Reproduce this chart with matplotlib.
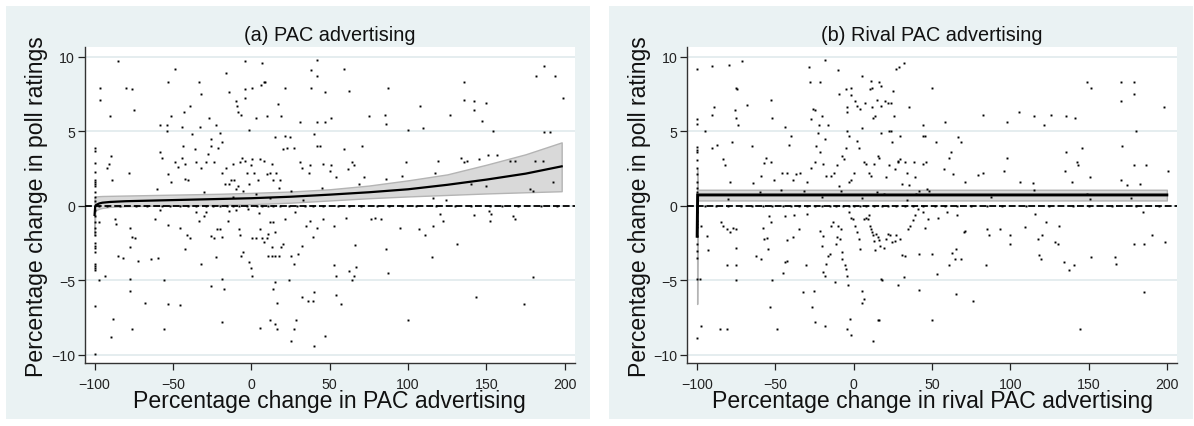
import matplotlib.pyplot as plt
import numpy as np
from matplotlib.patches import Rectangle

plt.rcParams["font.family"] = ["Liberation Sans", "DejaVu Sans"]

BG = "#EAF2F3"
GRID = "#E3ECEE"

# ---------------------------------------------------------------- panel (a)
# observations sitting on x = -100 (poll change values)
pac_col_y = [3.85, 3.7, 2.87, 2.29, 1.73, 1.57, 1.46, 1.34, 0.9, 0.6, 0.3,
             -0.3, -0.7, -1.1, -1.5, -1.79, -1.95, -2.52, -2.68, -2.86, -3.09,
             -3.91, -4.03, -4.18, -4.30, -6.71, -9.97]
# observations sitting on y = 0 (advertising change values)
pac_zero_x = [-97, -92, -83.8, -73.8, -66.8, -57.2, -51.9, -45.5, -40.2, -35,
              -29, -24.3, -20, -15.7, -11.5, -7.7, -2.9, 3.4, 7, 10.9, 14,
              18.3, 24, 29, 34, 39.6, 46, 55, 62, 70, 80, 88, 96, 105, 118,
              130, 140, 152, 160, 170, 185, 195]
# remaining observations (x, y)
pac_pts = [
    (-85, 9.7), (-4.2, 9.7), (7, 9.6), (42, 9.8), (59, 9.2), (-49, 9.15),
    (194, 8.7), (187, 9.4), (199, 7.2), (-96.6, 7.9), (-96.6, 7.1), (-80, 7.9),
    (-76, 7.8), (-74.6, 6.4), (-90, 6.0), (-53, 8.3), (-33.5, 8.3), (-32, 7.5),
    (-39, 6.7), (-43, 6.3), (-58, 5.4), (-54, 5.4), (-54, 5.0), (-51, 6.0),
    (-44, 5.3), (-33, 5.25), (-27, 5.9), (-22.5, 5.4), (-16, 8.9), (-14.5, 7.6),
    (-10, 7.0), (-9, 6.7), (-8.5, 6.3), (-6.6, 6.1), (-4, 7.2), (-4, 7.8),
    (0.7, 7.9), (6.4, 8.1), (8, 8.3), (9, 8.3), (10, 6.0), (2.7, 5.9),
    (-1.7, 5.1), (17, 6.8), (19, 6.0), (21.5, 7.9), (31, 5.6), (38, 9.1),
    (42, 8.7), (38, 7.9), (47, 7.6), (42, 5.6), (47, 5.6), (51, 5.9), (62, 7.7),
    (87, 7.9), (85, 6.1), (75, 6.0), (86, 5.5), (107.5, 6.7), (109.5, 5.2),
    (100, 5.1), (127, 6.1), (136, 8.3), (136, 7.1), (142, 7.0), (150, 6.9),
    (142, 6.4), (147, 5.7), (154, 5.0), (190.6, 4.96), (186.5, 4.96), (181.7, 8.7),
    (-89.7, 3.35), (-91, 2.8), (-89, 1.7), (-92, 2.5), (-78, 2.2), (-58, 3.6),
    (-57, 3.2), (-53, 2.1), (-51.3, 1.6), (-44.5, 3.2), (-47, 2.6), (-49, 2.9),
    (-42, 1.8), (-40.6, 1.7), (-42, 2.8), (-43.8, 4.0), (-38, 4.8), (-36, 3.8),
    (-35, 2.9), (-32, 2.5), (-28.6, 2.9), (-27.4, 3.5), (-26, 4.0), (-26, 4.5),
    (-23.7, 2.9), (-21, 3.9), (-20, 4.9), (-19, 4.3), (-17, 1.45), (-16.4, 2.5),
    (-19, 2.2), (-14, 1.45), (-12.7, 1.7), (-11.5, 2.8), (-11, 1.7), (-9.8, 1.1),
    (-8.3, 1.3), (-7, 2.9), (-6, 3.2), (-4.2, 3.0), (-3, 2.2), (-1.7, 1.45),
    (-0.5, 2.7), (0.7, 3.1), (2, 2.2), (4.4, 1.7), (5.6, 3.1), (8, 3.0),
    (10, 2.1), (11.7, 2.2), (13, 2.8), (14, 1.7), (15.4, 4.6), (16, 2.2),
    (17.4, 1.2), (18, 1.7), (20, 3.8), (21.5, 4.7), (23, 3.9), (24.7, 4.6),
    (27, 3.9), (31.3, 2.9), (32.5, 2.5), (37, 2.2), (37.4, 2.7), (40, 4.8),
    (42, 4.0), (44, 4.0), (46, 2.8), (50, 2.35), (51, 2.7), (54, 1.9), (59, 3.8),
    (61.4, 2.45), (64, 2.9), (65.5, 2.7), (70.4, 4.0), (71.6, 1.9), (69, 1.45),
    (86, 1.8), (96, 2.0), (99, 2.9), (117, 2.2), (119, 3.0), (134, 3.2),
    (136, 2.9), (137.7, 3.0), (145, 3.1), (151, 3.4), (157, 3.4), (165, 3.0),
    (168, 3.0), (181, 3.0), (186, 3.0), (192.7, 1.6), (178, 1.1), (180, 1.0),
    (140, 1.45), (150, 1.3), (116, 0.5), (124, 0.35), (-30, 0.9), (-12, 0.6),
    (-5, 1.0), (3, 0.8), (12, 0.5), (25, 1.0), (33, 0.4), (45, 1.2), (-60, 1.1),
    (-87, -0.9), (-86.5, -1.2), (-97, -1.1), (-77.5, -1.5), (-76, -2.1),
    (-74, -2.2), (-77.5, -2.8), (-85, -3.4), (-82, -3.5), (-72.6, -3.7),
    (-64, -3.6), (-59.7, -3.5), (-61.6, -0.9), (-53, -1.3), (-45.7, -1.5),
    (-41, -2.0), (-39, -2.2), (-42, -2.9), (-32, -3.9), (-33.5, -1.0),
    (-30, -0.7), (-28.6, -0.45), (-26, -2.05), (-23.7, -2.2), (-21.8, -1.55),
    (-20, -1.55), (-19, -2.1), (-22.5, -3.45), (-19, -4.9), (-17.6, -5.6),
    (-19, -7.8), (-25.7, -5.4), (-15, -1.0), (-14, -0.35), (-7.8, -1.55),
    (-7, -2.0), (-5, -3.1), (-6.4, -3.35), (-1.7, -3.8), (-0.5, -4.2),
    (0.2, -4.7), (0.7, -2.2), (3, -2.2), (5.6, -1.55), (6.8, -2.2), (8, -2.45),
    (10, -2.2), (10.5, -3.35), (13, -3.35), (11.7, -1.07), (14, -1.07),
    (15.4, -3.35), (17.8, -3.35), (13, -2.8), (10.5, -1.9), (15, -1.8),
    (19, -2.8), (20, -2.6), (21.5, -0.9), (25, -3.35), (27, -3.9), (29.6, -3.25),
    (32.5, -2.7), (35, -1.35), (37.4, -1.0), (39.4, -2.1), (42, -1.5), (46, -0.9),
    (52.6, -1.35), (15, -5.1), (14, -5.6), (11.7, -7.7), (15.4, -7.95),
    (16.4, -8.3), (25, -9.05), (27, -8.3), (28.8, -7.7), (23.9, -5.0), (16.6, -6.5),
    (32.5, -6.15), (36, -6.4), (39.4, -6.4), (40, -5.8), (40, -9.4), (5.6, -8.2),
    (47, -8.75), (53, -4.0), (54, -4.7), (54, -6.0), (57, -6.6), (60.6, -0.8),
    (62, -4.4), (64, -5.0), (65.5, -4.7), (66, -2.65), (67, -4.1), (76.5, -0.9),
    (79, -0.8), (83, -0.9), (86, -2.9), (87, -4.5), (95, -1.5), (100, -7.7),
    (107, -1.55), (110.7, -2.0), (115, -3.45), (115.6, -1.35), (120.5, -0.55),
    (122.5, -1.0), (131.5, -2.6), (142, -0.6), (143.6, -6.1), (151.6, -0.33),
    (152, -1.0), (153, -0.55), (166.7, -0.67), (168, -0.9), (174, -6.6),
    (180, -4.8), (-97, -5.0), (-93.4, -4.7), (-89.7, -8.8), (-88.5, -7.6),
    (-77.5, -4.9), (-77.5, -5.7), (-76, -8.3), (-68, -6.5), (-55.5, -5.0),
    (-56, -8.3), (-53, -6.6), (-45.7, -6.7), (-58, -0.3), (-35, -0.4),
    (-10, -0.3), (5, -0.5), (28, -0.4), (-2, -0.2),
]
# fitted curve with 95% band
pac_fit_x = [-100, -99.6, -99, -97, -95, -90, -80, -60, -40, -20, 0, 25, 50,
             75, 100, 125, 150, 175, 198]
pac_fit = [-0.62, -0.05, 0.05, 0.15, 0.2, 0.25, 0.3, 0.35, 0.4, 0.45, 0.5,
           0.6, 0.74, 0.9, 1.1, 1.4, 1.75, 2.15, 2.64]
pac_hi = [0.55, 0.6, 0.62, 0.64, 0.65, 0.66, 0.68, 0.72, 0.76, 0.8, 0.86,
          0.95, 1.1, 1.35, 1.7, 2.1, 2.75, 3.45, 4.25]
pac_lo = [-2.0, -0.45, -0.3, -0.2, -0.15, -0.08, -0.03, 0.0, 0.02, 0.05, 0.1,
          0.2, 0.35, 0.5, 0.62, 0.72, 0.82, 0.9, 0.97]

# ---------------------------------------------------------------- panel (b)
rival_col_y = [9.2, 5.8, 5.5, 3.92, 3.74, 3.58, 3.09, 2.51, 2.13, 1.61, 1.2,
               0.9, -0.45, -1.0, -1.23, -1.45, -2.01, -2.57, -3.02, -3.5,
               -4.9, -8.9]
rival_zero_x = [-95, -88, -80, -72, -65, -58, -52, -45, -40, -35, -30, -25,
                -20, -15, -11, -7, -3, 0, 4, 8, 13, 18, 22, 27, 33, 38, 44, 52,
                58, 66, 75, 85, 95, 110, 125, 140, 150, 165, 180, 195]
rival_pts = [
    (-90.3, 9.4), (-79.7, 9.45), (-71.3, 9.7), (-18.4, 9.8), (-28.3, 9.3),
    (-10.1, 9.1), (27.3, 9.2), (32.1, 9.6), (29.2, 9.3), (-27.8, 8.3),
    (-21.5, 8.3), (5.6, 8.7), (11.1, 8.4), (11.6, 7.9), (10.4, 7.8), (16.4, 8.3),
    (17.2, 8.0), (25, 7.7), (50, 7.9), (149, 8.3), (151.5, 7.9), (170.8, 8.3),
    (179.3, 8.3), (179.3, 7.5), (170.8, 7.0), (198.4, 6.6), (-75.4, 7.9),
    (-74.4, 7.8), (-68, 6.75), (-89.3, 6.65), (-90.3, 6.1), (-76, 6.4), (-75, 5.9),
    (-73.7, 5.4), (-95, 5.0), (-52, 5.9), (-53, 7.1), (-26, 6.5), (-24.6, 6.4),
    (-27, 5.8), (-22.2, 5.4), (-20.3, 6.0), (-16.2, 5.4), (-9.7, 7.5), (-4.9, 7.8),
    (-1.7, 7.9), (-1.7, 7.4), (0.7, 7.0), (1.9, 6.7), (3.9, 6.5), (-4.1, 6.6),
    (-4.1, 6.3), (7.5, 6.9), (11.6, 6.6), (12.3, 5.9), (13.5, 6.0), (14.7, 7.1),
    (17.6, 6.7), (20, 7.0), (22, 6.9), (25.6, 6.0), (24, 6.9), (23.7, 5.0),
    (22.5, 5.0), (35, 6.6), (45.7, 4.7), (44, 5.4), (58, 5.6), (82.4, 6.1),
    (97.8, 5.6), (105.8, 6.3), (115, 6.0), (126.3, 6.1), (121.5, 5.4),
    (135.3, 6.0), (141.5, 5.9), (180.5, 5.0), (171.3, 4.0),
    (-90.3, 3.9), (-87.4, 4.1), (-83.8, 3.1), (-82.1, 2.75), (-79, 1.6),
    (-77.8, 4.3), (-80.2, 0.45), (-65, 4.0), (-64.3, 1.5), (-59.5, 2.0),
    (-57, 2.85), (-56.3, 3.2), (-53, 2.9), (-51, 1.7), (-46.6, 1.07), (-45.7, 2.2),
    (-43.9, 5.25), (-42.8, 2.2), (-41.1, 4.1), (-40.3, 4.7), (-39.1, 1.7),
    (-36.7, 2.1), (-34.3, 2.2), (-31.9, 1.0), (-30, 1.6), (-27, 2.5), (-25, 2.95),
    (-24.2, 4.0), (-22.7, 4.9), (-21.7, 3.6), (-19.8, 2.8), (-18.6, 4.5),
    (-17.4, 2.0), (-14.5, 2.0), (-12.6, 2.2), (-10.9, 2.7), (-9.7, 1.35),
    (-7.7, 3.35), (-6.5, 3.1), (-4.9, 3.9), (-4.1, 5.0), (-2.9, 4.7), (-2.9, 1.6),
    (-1.7, 1.7), (0, 2.2), (1.9, 4.35), (3.1, 3.9), (5.1, 5.2), (6.8, 2.9),
    (8, 2.8), (9.7, 2.2), (11.1, 2.0), (12.8, 2.8), (15.2, 3.35), (16.4, 3.2),
    (17.6, 4.9), (19.3, 0.8), (20.8, 1.9), (22.5, 2.7), (24.2, 4.3), (26.1, 2.45),
    (28, 2.9), (28.5, 3.0), (29.7, 3.1), (29.7, 4.7), (30.9, 1.45), (32.9, 2.9),
    (33.8, 2.2), (35.3, 1.4), (38.2, 2.9), (39.4, 1.9), (41.8, 1.0), (44.2, 2.8),
    (45.9, 2.9), (44.2, 4.65), (46.9, 1.1), (52.7, 4.25), (57.5, 2.45),
    (61.1, 3.2), (62.3, 3.6), (63.5, 2.1), (66.7, 4.6), (68.4, 4.3), (70.8, 1.6),
    (79.2, 2.05), (82.9, 2.2), (95.7, 2.3), (98.1, 3.2), (106.3, 1.6),
    (114.3, 1.55), (115, 1.07), (134.8, 2.35), (135.3, 3.6), (142.5, 2.9),
    (143.2, 2.7), (139.6, 1.6), (145.9, 3.9), (150.7, 1.9), (148.8, 0.8),
    (150.7, 0.45), (170.8, 1.7), (174.4, 1.4), (182.8, 1.45), (179.3, 2.7),
    (186.5, 2.7), (200.5, 2.3), (177.4, 0.5), (-60, 0.9), (-20, 0.6), (-8, 1.0),
    (5, 0.5), (15, 0.9), (34, 0.4), (40, 0.8), (48, 1.0), (88, 0.6),
    (-97.6, -1.35), (-93.5, -2.05), (-92.8, -3.0), (-98.3, -4.9), (-97.6, -8.1),
    (-85, -1.07), (-83.8, -1.35), (-80.7, -1.55), (-79, -1.75), (-77.3, -1.5),
    (-74.9, -1.55), (-74.9, -2.85), (-80.7, -3.95), (-74.9, -4.0), (-74.9, -5.0),
    (-85.5, -8.3), (-80.7, -8.3), (-62.3, -3.35), (-58, -1.5), (-57.5, -2.25),
    (-55.6, -2.2), (-54.8, -2.9), (-59.4, -3.6), (-53.9, -0.7), (-52.7, -1.07),
    (-52, -5.0), (-53.6, -6.8), (-49, -8.3), (-43.9, -0.7), (-42.8, -2.3),
    (-42.8, -3.7), (-43.9, -3.8), (-45, -4.5), (-38.6, -2.1), (-37.9, -0.6),
    (-34.8, -1.55), (-32.4, -5.8), (-30.7, -4.0), (-30, -0.55), (-26.6, -6.8),
    (-25.1, -5.7), (-24.6, -7.8), (-21.7, -1.7), (-20.5, -2.7), (-19.8, -2.05),
    (-19.8, -4.45), (-18.6, -4.7), (-18.6, -8.1), (-17.9, -3.9), (-16.2, -3.35),
    (-15, -3.25), (-14.5, -1.35), (-13.1, -1.07), (-12.1, -5.1), (-11.4, -2.55),
    (-10.6, -2.1), (-10.1, -1.35), (-8.9, -2.25), (-8.2, -1.55), (-7.7, -3.1),
    (-7.2, -3.6), (-5.3, -4.0), (-4.8, -4.25), (-4.1, -4.7), (-3.4, -5.35),
    (-4.1, -8.25), (-2.4, -7.6), (-1.7, -8.7), (-2.9, -0.45), (-1.7, -0.8),
    (-0.5, -0.9), (0.7, -1.35), (1.9, -1.8), (3.1, -2.25), (4.3, -2.9),
    (5.6, -5.7), (6.3, -6.25), (5.6, -6.5), (6.8, -0.9), (8, -0.8), (9.2, -0.9),
    (9.7, -0.6), (10.4, -1.35), (11.1, -1.55), (11.6, -1.75), (12.1, -2.0),
    (12.8, -2.4), (13.5, -3.0), (14, -1.9), (15.2, -2.1), (15.9, -2.3),
    (16.8, -2.7), (17.6, -4.9), (18, -5.0), (15.2, -7.7), (16.4, -7.7),
    (12.1, -9.05), (19.3, -2.85), (20.8, -2.25), (21.7, -1.9), (23.2, -2.0),
    (24.2, -2.45), (26.1, -2.35), (27.3, -1.95), (28.5, -5.35), (29.7, -2.25),
    (30.9, -3.3), (32.1, -4.8), (32.9, -3.35), (34.5, -1.55), (35.7, -1.35),
    (37.7, -0.95), (39.4, -0.65), (41.1, -0.2), (41.8, -3.25), (41.8, -5.65),
    (44.2, -0.45), (45.4, -1.5), (47.3, -0.9), (49.8, -7.65), (50.2, -3.25),
    (53.4, -4.6), (53.9, -0.8), (59.4, -0.4), (61.1, -4.0), (62.8, -3.15),
    (64.7, -3.55), (65.2, -2.9), (65.9, -0.65), (65.2, -5.9), (68.4, -3.6),
    (70.3, -1.8), (70.8, -1.7), (76.1, -6.4), (85.3, -1.55), (84.5, -4.0),
    (86.5, -2.0), (93.7, -1.55), (99.8, -2.0), (99.8, -2.6), (109.4, -1.45),
    (115.5, -0.55), (117.4, -2.25), (118.4, -3.3), (119.8, -3.55), (120.3, -1.95),
    (122.7, -1.1), (128.7, -2.45), (130.4, -2.55), (131.1, -1.35), (134.3, -3.8),
    (137.2, -4.35), (140.8, -4.0), (144.4, -8.3), (151.7, -3.45), (166.7, -3.45),
    (167.4, -3.9), (179.3, -2.55), (184.5, -0.4), (185.7, -2.55), (185.7, -5.8),
    (190.6, -2.0), (199, -2.45),
]
rival_fit_x = [-100, -99.7, 0, 100, 200]
rival_fit = [-2.05, 0.72, 0.72, 0.72, 0.72]
rival_hi = [2.46, 1.07, 1.07, 1.07, 1.07]
rival_lo = [-6.6, 0.35, 0.35, 0.35, 0.35]

x_ticks = [-100, -50, 0, 50, 100, 150, 200]
y_ticks = [-10, -5, 0, 5, 10]


def draw_panel(ax, title, xlabel, col_y, zero_x, pts, fx, fit, lo, hi, fit_lw):
    ax.set_facecolor("white")
    for yt in y_ticks:
        ax.axhline(yt, color=GRID, lw=1.3, zorder=0)

    ax.fill_between(fx, lo, hi, facecolor="#D9D9D9", edgecolor="#B4B4B4",
                    lw=1.0, zorder=1)
    pts = np.array(pts)
    xs = np.concatenate([np.full(len(col_y), -100.0), zero_x, pts[:, 0]])
    ys = np.concatenate([col_y, np.zeros(len(zero_x)), pts[:, 1]])
    ax.plot(xs, ys, ls="none", marker="s", ms=1.4, mew=0, color="black", zorder=2)
    ax.axhline(0, color="black", lw=1.3, dashes=(3.8, 1.6), zorder=3)
    ax.plot(fx, fit, color="black", lw=fit_lw, zorder=4, solid_joinstyle="miter")

    ax.set_xlim(-106.3, 206.5)
    ax.set_ylim(-10.58, 10.63)
    ax.set_xticks(x_ticks)
    ax.set_yticks(y_ticks)
    ax.tick_params(direction="out", length=5, width=0.9, colors="#222222",
                   labelsize=10.2)
    ax.tick_params(axis="x", pad=5)
    ax.tick_params(axis="y", pad=2)
    for side in ("top", "right"):
        ax.spines[side].set_visible(False)
    for side in ("left", "bottom"):
        ax.spines[side].set_color("#333333")
        ax.spines[side].set_linewidth(1.0)

    ax.text(0.5, 1.041, title, transform=ax.transAxes, ha="center",
            va="center", fontsize=14.3, color="#111111")
    ax.set_xlabel(xlabel, fontsize=16.6, color="#111111")
    ax.xaxis.label.set_va("baseline")
    ax.xaxis.set_label_coords(0.5, -0.139)
    ax.set_ylabel("Percentage change in poll ratings", fontsize=16.6, color="#111111")
    ax.yaxis.label.set_va("baseline")
    ax.yaxis.set_label_coords(-0.0844, 0.5)


fig = plt.figure(figsize=(11.94, 4.27), dpi=100)
fig.patch.set_facecolor("white")
fig.patches.append(Rectangle((6 / 1194, 7 / 427), 584 / 1194, 413 / 427,
                             transform=fig.transFigure, facecolor=BG,
                             edgecolor="none", zorder=-1))
fig.patches.append(Rectangle((609 / 1194, 7 / 427), 584 / 1194, 413 / 427,
                             transform=fig.transFigure, facecolor=BG,
                             edgecolor="none", zorder=-1))

ax_a = fig.add_axes([84.7 / 1194, 62.7 / 427, 490.3 / 1194, 316 / 427])
ax_b = fig.add_axes([687.3 / 1194, 62.7 / 427, 489.7 / 1194, 316 / 427])

draw_panel(ax_a, "(a) PAC advertising", "Percentage change in PAC advertising",
           pac_col_y, pac_zero_x, pac_pts, pac_fit_x, pac_fit, pac_lo, pac_hi, 1.6)
draw_panel(ax_b, "(b) Rival PAC advertising",
           "Percentage change in rival PAC advertising",
           rival_col_y, rival_zero_x, rival_pts, rival_fit_x, rival_fit,
           rival_lo, rival_hi, 2.1)

fig.savefig("out.png", dpi=100, facecolor="white")
